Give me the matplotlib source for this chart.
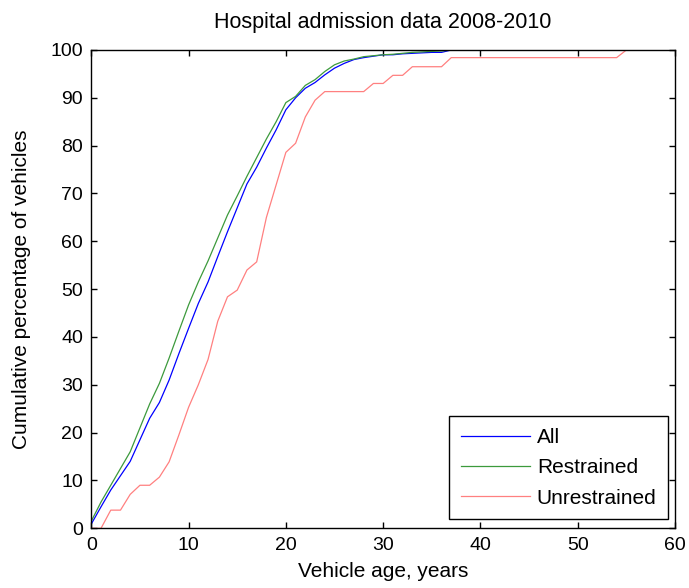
import numpy as np
import matplotlib
matplotlib.use('Agg')
import matplotlib.pyplot as plt

plt.rcParams['font.family'] = ['Liberation Sans', 'DejaVu Sans']

# Данные: возраст автомобиля и накопленный процент
ages = list(range(0, 61))

all_pct = [0.9, 4.5, 8, 11, 14, 18.5, 23, 26.3, 31, 36.5,
           41.8, 47, 51.5, 56.8, 62, 67, 72, 75.5, 79.5, 83.3,
           87.5, 90, 92, 93.2, 94.8, 96.2, 97.2, 98, 98.4, 98.7,
           99, 99, 99.2, 99.3, 99.4, 99.5, 99.5, 100, 100, 100,
           100, 100, 100, 100, 100, 100, 100, 100, 100, 100,
           100, 100, 100, 100, 100, 100, 100, 100, 100, 100, 100]

restrained_pct = [1.5, 5.5, 9, 12.5, 16, 21, 26, 30.3, 35.6, 41.2,
                  46.7, 51.5, 55.9, 60.7, 65.5, 69.5, 73.6, 77.5, 81.4, 85,
                  89, 90.3, 92.6, 93.8, 95.5, 96.9, 97.7, 98.1, 98.6, 98.8,
                  99, 99.1, 99.3, 99.5, 99.6, 99.7, 99.8, 100, 100, 100,
                  100, 100, 100, 100, 100, 100, 100, 100, 100, 100,
                  100, 100, 100, 100, 100, 100, 100, 100, 100, 100, 100]

unrestrained_pct = [0, 0, 3.8, 3.8, 7.1, 9, 9, 10.7, 13.9, 19.5,
                    25.3, 30, 35.3, 43.3, 48.4, 49.8, 54, 55.7, 65, 71.8,
                    78.6, 80.5, 86, 89.5, 91.3, 91.3, 91.3, 91.3, 91.3, 93,
                    93, 94.7, 94.7, 96.5, 96.5, 96.5, 96.5, 98.4, 98.4, 98.4,
                    98.4, 98.4, 98.4, 98.4, 98.4, 98.4, 98.4, 98.4, 98.4, 98.4,
                    98.4, 98.4, 98.4, 98.4, 98.4, 100, 100, 100, 100, 100, 100]

fig = plt.figure(figsize=(6.89, 5.88), dpi=100)
ax = fig.add_axes([0.1325, 0.1015, 0.8472, 0.8135])

ax.plot(ages, all_pct, color='#0000ff', lw=0.9, label='All')
ax.plot(ages, restrained_pct, color='#3c9a3c', lw=0.9, label='Restrained')
ax.plot(ages, unrestrained_pct, color='#ff8080', lw=0.9, label='Unrestrained')

ax.set_xlim(0, 60)
ax.set_ylim(0, 100)
ax.set_xticks(np.arange(0, 61, 10))
ax.set_yticks(np.arange(0, 101, 10))
ax.tick_params(direction='in', length=4, width=1, top=True, right=True,
               labelsize=14, pad=6)
for s in ax.spines.values():
    s.set_linewidth(1.0)

ax.set_title('Hospital admission data 2008-2010', fontsize=15.5, pad=16)
ax.set_xlabel('Vehicle age, years', fontsize=15, labelpad=6)
ax.set_ylabel('Cumulative percentage of vehicles', fontsize=15, labelpad=14)

leg = ax.legend(loc='lower right', bbox_to_anchor=(0.988, 0.019),
                borderaxespad=0, fontsize=15, handlelength=3.3,
                handletextpad=0.35, labelspacing=0.55, borderpad=0.55,
                fancybox=False, framealpha=1)
leg.get_frame().set_edgecolor('black')
leg.get_frame().set_linewidth(1.0)

fig.savefig('out.png', dpi=100)
